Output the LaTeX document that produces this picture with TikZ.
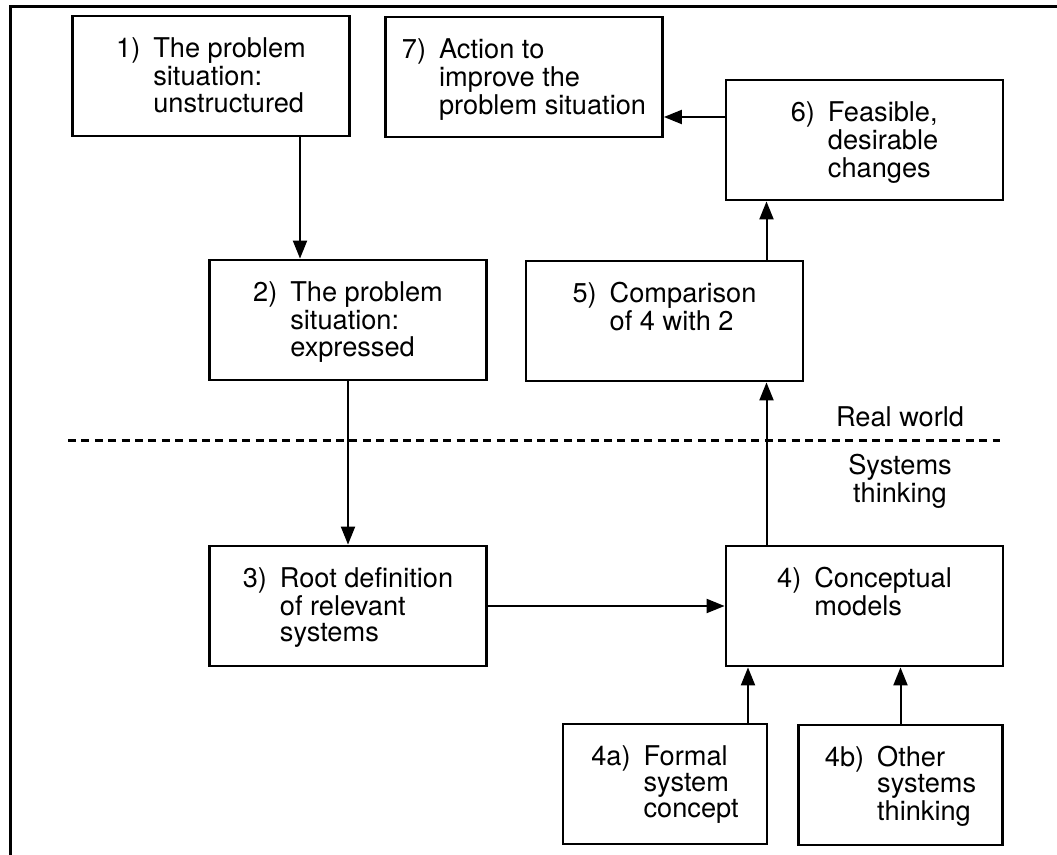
\documentclass[tikz,border=0pt]{standalone}
\usepackage{fontspec}
\setmainfont{TeX Gyre Heros}
\usepackage{tikz}
\usetikzlibrary{arrows.meta, calc}

% number, then the lines of a stage, hanging
\newcommand{\steptext}[2]{%
    \begin{tabular}[t]{@{}l@{\hspace{6.5pt}}l@{}}#1 &
        \begin{tabular}[t]{@{}l@{}}#2\end{tabular}
    \end{tabular}\hspace{2.5pt}}

\begin{document}
\begin{tikzpicture}[
            x=0.5pt, y=-0.5pt,
            font=\fontsize{13.6}{13}\selectfont,
            stage/.style={
                draw, line width=1.4pt,
                minimum width=138.5pt,
                inner xsep=0pt, inner ysep=0pt,
                text height=21pt, text depth=39pt,
            },
            substage/.style={stage, minimum width=102pt},
            flow/.style={-{Triangle[length=9pt,width=7pt]}, line width=1pt},
            divider/.style={line width=1.5pt, dash pattern=on 4pt off 2.7pt}]
        \useasboundingbox (0,0) rectangle (1057,855);
        \draw[line width=1.5pt] (10,855) -- (10,7) -- (1057,7);
        % stages
        \node[stage] (s1) at (211,76) {\steptext{1)}{The problem\\situation:\\unstructured}};
        \node[stage] (s7) at (524,77) {\steptext{7)}{Action to\\improve the\\problem situation}};
        \node[stage] (s6) at (864.5,140) {\steptext{6)}{Feasible,\\desirable\\changes}};
        \node[stage] (s2) at (348,320) {\steptext{2)}{The problem\\situation:\\expressed}};
        \node[stage] (s5) at (664.5,321) {\steptext{5)}{Comparison\\of 4 with 2}};
        \node[stage] (s3) at (348,606) {\steptext{3)}{Root definition\\of relevant\\systems}};
        \node[stage] (s4) at (864.5,606) {\steptext{4)}{Conceptual\\models}};
        \node[substage] (s4a) at (665,784) {\steptext{4a)}{Formal\\system\\concept}};
        \node[substage] (s4b) at (900.5,785) {\steptext{4b)}{Other\\systems\\thinking}};
        % real world / systems thinking
        \draw[divider] (68,441) -- (1000,441);
        \node[anchor=base] (real) at (900,427) {Real world};
        \node[anchor=base] (syst) at (900,475) {\begin{tabular}[t]{@{}c@{}}Systems\\thinking\end{tabular}};
        % arrows
        \draw[flow] ([xshift=44.5pt]s1.south) -- ([xshift=44.5pt]s1.south |- s2.north);
        \draw[flow] (s2) -- (s3);
        \draw[flow] (s3) -- (s4);
        \draw[flow] ([xshift=-49pt]s4.north) -- ([xshift=-49pt]s4.north |- s5.south);
        \draw[flow] ([xshift=-49pt]s6.south |- s5.north) -- ([xshift=-49pt]s6.south);
        \draw[flow] ([yshift=11.5pt]s6.west) -- ([yshift=11.5pt]s6.west -| s7.east);
        \draw[flow] ([xshift=41.5pt]s4a.north) -- ([xshift=41.5pt]s4a.north |- s4.south);
        \draw[flow] (s4b.north) -- (s4b.north |- s4.south);
        \end{tikzpicture}
\end{document}
